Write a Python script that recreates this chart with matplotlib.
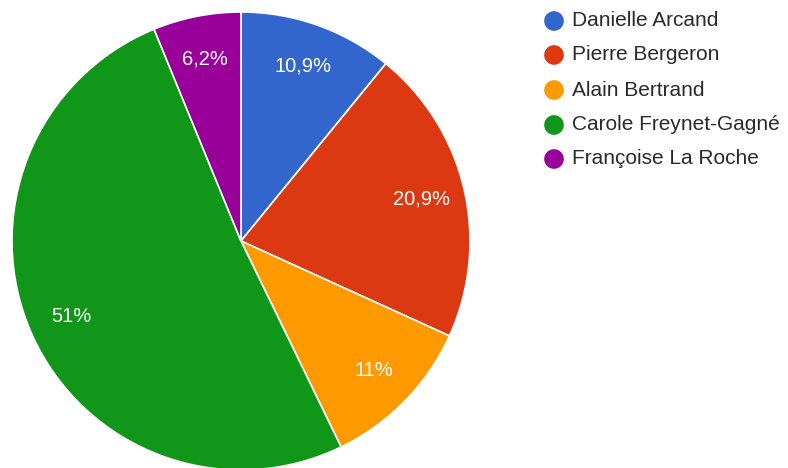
import matplotlib
matplotlib.use("Agg")
import matplotlib.pyplot as plt
import numpy as np

names = ["Danielle Arcand", "Pierre Bergeron", "Alain Bertrand",
         "Carole Freynet-Gagné", "Françoise La Roche"]
values = [10.9, 20.9, 11.0, 51.0, 6.2]
labels = ["10,9%", "20,9%", "11%", "51%", "6,2%"]
colors = ["#3366cc", "#dc3912", "#ff9900", "#109618", "#990099"]

W, H = 788, 468
fig = plt.figure(figsize=(W / 100, H / 100), dpi=100)
ax = fig.add_axes([0, 0, 1, 1])
ax.axis("off")

cx, cy, r = 241, H - 241, 229
wedges, texts = ax.pie(values, colors=colors, startangle=90, counterclock=False,
                       center=(cx, cy), radius=r,
                       wedgeprops=dict(edgecolor="white", linewidth=1.2))
cum = 0
for v, lab in zip(values, labels):
    mid = np.deg2rad(90 - (cum + v / 2) / 100 * 360)
    cum += v
    ax.text(cx + 0.81 * r * np.cos(mid), cy + 0.81 * r * np.sin(mid), lab,
            ha="center", va="center", color="white", fontsize=14.5,
            family="Liberation Sans")
ax.set_xlim(0, W)
ax.set_ylim(0, H)
ax.set_aspect("auto")

ys = [21, 55, 90, 125, 159]
for y, n, c in zip(ys, names, colors):
    ax.scatter([554], [H - y], s=200, color=c, edgecolors="none")
    ax.text(572, H - y, n, ha="left", va="center", fontsize=15,
            color="#2a2a2a", family="Liberation Sans")

fig.savefig("out.png", dpi=100)
